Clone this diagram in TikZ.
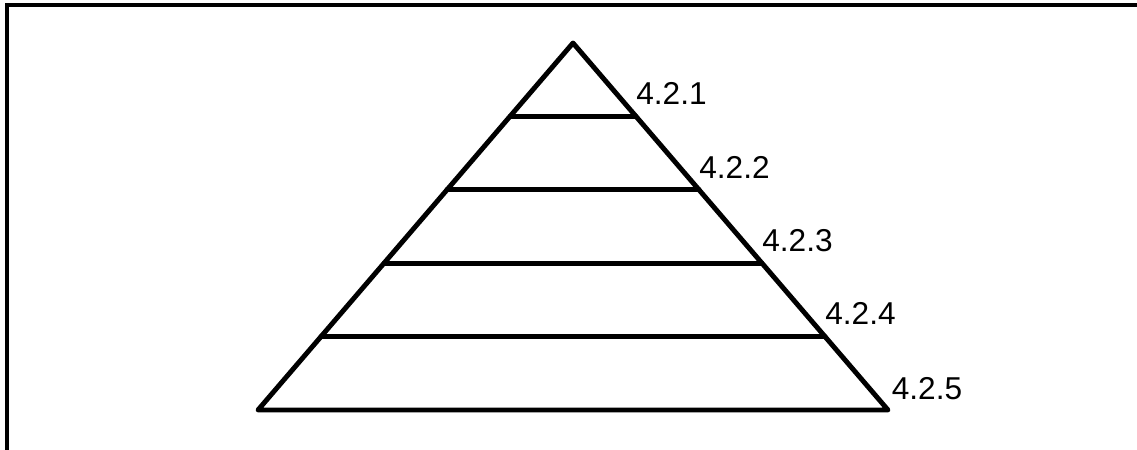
\documentclass[tikz,border=0pt]{standalone}
\usepackage{fontspec}
\setmainfont{Liberation Sans}
\usepackage{tikz}
\usetikzlibrary{positioning}

\begin{document}
\begin{tikzpicture}[
    x=0.02cm, y=-0.02cm,
    edge/.style={line width=2.8pt, line join=round, line cap=round},
    lbl/.style={font=\fontsize{18}{20}\selectfont, inner sep=0pt, anchor=west}
  ]
    \useasboundingbox (0,0) rectangle (1137,450);
    % frame
    \draw[line width=2.4pt] (7,450) -- (7,5) -- (1137,5);
    % pyramid
    \coordinate (apex) at (573,43);
    \coordinate (bl) at (258,410);
    \coordinate (br) at (888,410);
    \draw[edge] (apex) -- (bl) -- (br) -- cycle;
    \foreach \k in {1,...,4} {
      \path (apex) -- (bl) coordinate[pos=\k/5] (l\k);
      \path (apex) -- (br) coordinate[pos=\k/5] (r\k);
      \draw[edge] (l\k) -- (r\k);
      \node[lbl, xshift=0pt, yshift=13pt] (t\k) at (r\k) {4.2.\k};
    }
    \node[lbl, xshift=2pt, yshift=12pt] (t5) at (br) {4.2.5};
  \end{tikzpicture}
\end{document}
